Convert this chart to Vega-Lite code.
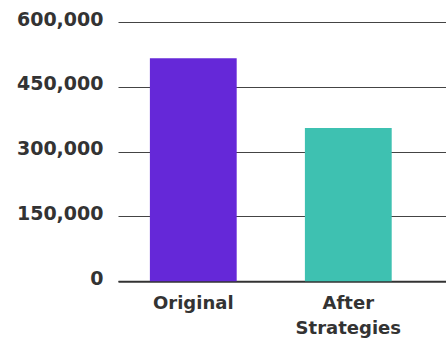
{
  "$schema": "https://vega.github.io/schema/vega-lite/v6.json",
  "autosize": "none",
  "width": 328,
  "height": 259.3,
  "padding": {"left": 118, "top": 22, "right": 0, "bottom": 63.7},
  "background": "white",
  "data": {"values": [
    {"category": "Original", "value": 516000},
    {"category": "After Strategies", "value": 355000}
  ]},
  "mark": {"type": "bar"},
  "encoding": {
    "x": {
      "field": "category", "type": "nominal", "sort": null,
      "scale": {"paddingInner": 0.44, "paddingOuter": 0.278, "align": 0.37},
      "axis": {
        "title": null, "labelAngle": 0, "ticks": false,
        "domain": true, "domainColor": "#333333", "domainWidth": 2,
        "labelFont": "DejaVu Sans", "labelFontWeight": "bold", "labelFontSize": 18,
        "labelColor": "#333333", "labelPadding": 13, "labelLineHeight": 25,
        "labelExpr": "split(datum.label, ' ')"
      }
    },
    "y": {
      "field": "value", "type": "quantitative",
      "scale": {"domain": [0, 600000]},
      "axis": {
        "title": null, "values": [0, 150000, 300000, 450000, 600000],
        "format": ",d", "ticks": false, "domain": false,
        "grid": true, "gridColor": "#444444", "gridWidth": 1,
        "labelFont": "DejaVu Sans", "labelFontWeight": "bold", "labelFontSize": 19,
        "labelColor": "#333333", "labelPadding": 15, "labelOffset": -3
      }
    },
    "color": {
      "field": "category", "type": "nominal", "sort": null,
      "scale": {"domain": ["Original", "After Strategies"], "range": ["#6528D8", "#3EC1B1"]},
      "legend": null
    }
  },
  "config": {"view": {"stroke": null}}
}
